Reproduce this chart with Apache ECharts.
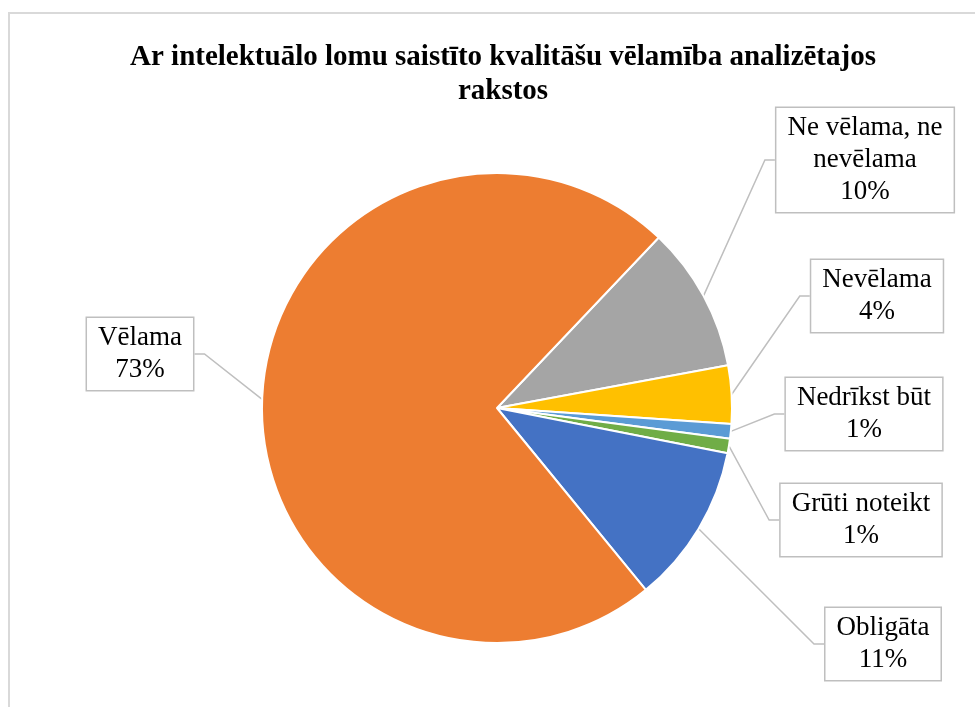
<!DOCTYPE html>
<html>
<head>
<meta charset="utf-8">
<script src="https://cdn.jsdelivr.net/npm/echarts@6/dist/echarts.min.js"></script>
<style>
  html, body { margin: 0; padding: 0; background: #fff; }
  #frame { position: absolute; left: 8px; top: 12px; width: 1000px; height: 720px; border: 2px solid #d9d9d9; }
  #container { position: absolute; left: 0; top: 0; width: 975px; height: 707px; }
</style>
</head>
<body>
<div id="frame"></div>
<div id="container"></div>
<script>
// order as the slices go clockwise from the upper right
var categories = ['Ne vēlama, ne nevēlama', 'Nevēlama', 'Nedrīkst būt', 'Grūti noteikt', 'Obligāta', 'Vēlama'];
var shares = [10, 4, 1, 1, 11, 73];
var colors = ['#A5A5A5', '#FFC000', '#5B9BD5', '#70AD47', '#4472C4', '#ED7D31'];

// where the callout boxes sit (centre x, top y)
var boxPos = [[865, 108], [877, 260], [864, 378], [861, 484], [883, 608], [140, 318]];

var myChart = echarts.init(document.getElementById('container'));

var pieData = categories.map(function (name, i) {
    return { name: name, value: shares[i], itemStyle: { color: colors[i] } };
});

option = {
    animation: false,
    title: {
        text: 'Ar intelektuālo lomu saistīto kvalitāšu vēlamība analizētajos\nrakstos',
        left: 498,
        top: 36,
        textAlign: 'center',
        textStyle: {
            fontFamily: 'Liberation Serif',
            fontWeight: 'bold',
            fontSize: 29,
            lineHeight: 34,
            color: '#000'
        }
    },
    series: [{
        type: 'pie',
        center: [497, 408],
        radius: 235,
        startAngle: 46.5,
        clockwise: true,
        itemStyle: { borderColor: '#fff', borderWidth: 2 },
        label: {
            show: true,
            formatter: function (p) {
                return p.name.replace(', ne ', ', ne\n') + '\n' + p.value + '%';
            },
            fontFamily: 'Liberation Serif',
            fontSize: 27,
            lineHeight: 32,
            color: '#000',
            align: 'center',
            backgroundColor: '#fff',
            borderColor: '#bfbfbf',
            borderWidth: 1.5,
            padding: [4, 11]
        },
        labelLine: {
            show: true,
            length: 15,
            length2: 10,
            lineStyle: { color: '#bfbfbf', width: 1.5 }
        },
        labelLayout: function (params) {
            var p = boxPos[params.dataIndex];
            return { x: p[0], y: p[1], align: 'center', verticalAlign: 'top' };
        },
        data: pieData
    }]
};

myChart.setOption(option);
</script>
</body>
</html>
